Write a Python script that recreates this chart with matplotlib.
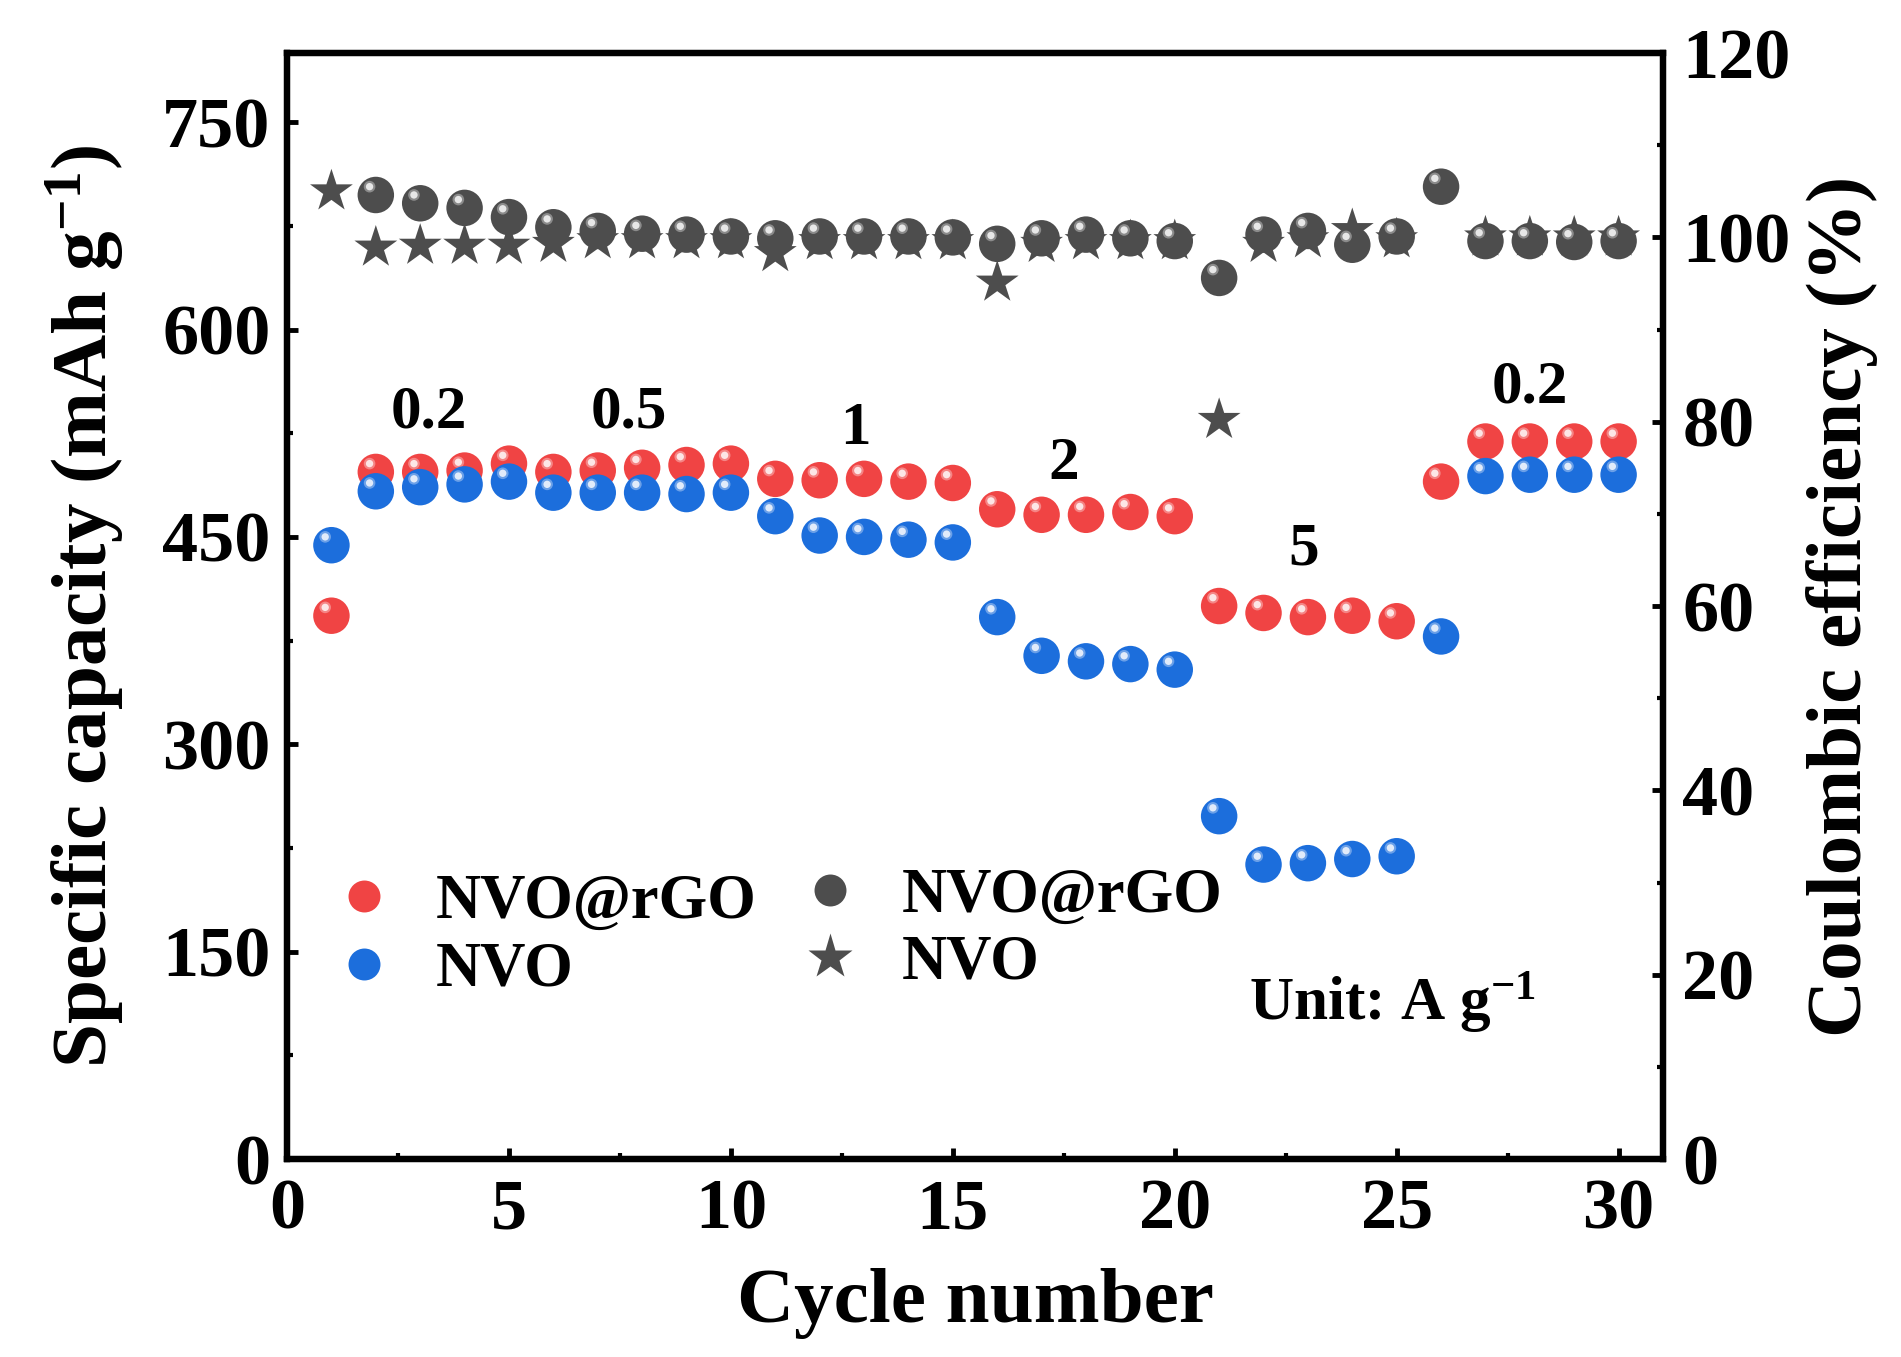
import numpy as np
import matplotlib
matplotlib.use("Agg")
import matplotlib.pyplot as plt
from matplotlib.lines import Line2D
from matplotlib.ticker import MultipleLocator
import matplotlib.transforms as mtransforms

plt.rcParams['font.family'] = ['Liberation Serif', 'DejaVu Serif']
plt.rcParams['font.weight'] = 'bold'
plt.rcParams['mathtext.fontset'] = 'custom'
plt.rcParams['mathtext.rm'] = 'Liberation Serif:bold'
plt.rcParams['mathtext.bf'] = 'Liberation Serif:bold'
plt.rcParams['mathtext.it'] = 'Liberation Serif:italic:bold'

# ---------------- data ----------------
cycles = list(range(1, 31))
cap_nvo_rgo = [393, 497, 497, 498, 503, 497, 498, 500, 502, 503,
               492, 491, 492, 490, 489, 470, 466, 466, 468, 465,
               400, 395, 392, 393, 389, 490, 519, 519, 519, 519]
cap_nvo = [444, 483, 486, 488, 490, 482, 482, 482, 481, 482,
           465, 451, 450, 448, 446, 392, 364, 360, 358, 354,
           248, 213, 214, 217, 219, 378, 494, 495, 495, 495]
ce_cycles_rgo = list(range(2, 31))
ce_nvo_rgo = [104.6, 103.7, 103.2, 102.2, 101.1, 100.7, 100.4, 100.3, 100.1,
              99.9, 100.1, 100.1, 100.1, 100.0, 99.3, 99.9, 100.3, 99.9, 99.6,
              95.6, 100.3, 100.7, 99.2, 100.1, 105.5, 99.6, 99.6, 99.5, 99.6]
ce_nvo = [105.0, 98.9, 99.1, 99.1, 99.1, 99.3, 99.7, 99.7, 99.7, 99.7,
          98.3, 99.6, 99.6, 99.6, 99.6, 95.1, 99.3, 99.6, 99.6, 99.6,
          80.2, 99.3, 99.8, 100.8, 99.8, np.nan, 100.0, 100.0, 100.0, 100.0]
rate_labels = ['0.2', '0.5', '1', '2', '5', '0.2']
rate_x = [3.2, 7.7, 12.8, 17.5, 22.9, 28.0]
rate_y = [540, 540, 528, 503, 441, 558]

RED = '#F04444'
BLUE = '#1C6EDC'
GRAY = '#4D4D4D'

fig = plt.figure(figsize=(19.01, 13.57), dpi=100)
ax = fig.add_axes([0.151, 0.1459, 0.7238, 0.8150])
ax2 = ax.twinx()

MS = 690  # marker area (pt^2)


def sphere(axis, x, y, color, zorder):
    axis.scatter(x, y, s=MS, color=color, edgecolors='none', zorder=zorder)
    off = mtransforms.offset_copy(axis.transData, fig=fig, x=-4.5, y=6.0, units='points')
    axis.scatter(x, y, s=70, color='white', alpha=0.35, edgecolors='none',
                 zorder=zorder + 0.1, transform=off)
    axis.scatter(x, y, s=28, color='white', alpha=0.8, edgecolors='none',
                 zorder=zorder + 0.2, transform=off)


sphere(ax, cycles, cap_nvo_rgo, RED, 3)
sphere(ax, cycles, cap_nvo, BLUE, 4)
ax2.scatter(cycles, ce_nvo, s=1050, marker='*', color=GRAY, edgecolors='none', zorder=3)
sphere(ax2, ce_cycles_rgo, ce_nvo_rgo, GRAY, 4)

for lab, xx, yy in zip(rate_labels, rate_x, rate_y):
    ax.text(xx, yy, lab, fontsize=44, fontweight='bold', ha='center', va='center', zorder=6)
ax.text(24.9, 113, 'Unit: A g$^{-1}$', fontsize=44, ha='center', va='center', zorder=6)

ax.set_xlim(0, 31)
ax.set_ylim(0, 800)
ax2.set_ylim(0, 120)
ax.xaxis.set_major_locator(MultipleLocator(5))
ax.xaxis.set_minor_locator(MultipleLocator(2.5))
ax.yaxis.set_major_locator(MultipleLocator(150))
ax.yaxis.set_minor_locator(MultipleLocator(75))
ax2.yaxis.set_major_locator(MultipleLocator(20))
ax2.yaxis.set_minor_locator(MultipleLocator(10))

for a in (ax, ax2):
    for sp in a.spines.values():
        sp.set_linewidth(4.5)
    a.tick_params(which='major', direction='in', length=8, width=3.5, labelsize=52)
    a.tick_params(which='minor', direction='in', length=4, width=3)
ax.tick_params(axis='y', which='both', right=False)
ax.tick_params(axis='x', which='both', top=False, pad=14)
ax.tick_params(axis='y', pad=12)
ax2.tick_params(axis='y', pad=14)

ax.set_xlabel('Cycle number', fontsize=57, fontweight='bold', labelpad=18)
ax.set_ylabel('Specific capacity (mAh g$^{-1}$)', fontsize=57, fontweight='bold', labelpad=26)
ax2.set_ylabel('Coulombic efficiency (%)', fontsize=57, fontweight='bold', labelpad=11)

h1 = [Line2D([], [], ls='none', marker='o', ms=23, color=RED, mec='none'),
      Line2D([], [], ls='none', marker='o', ms=23, color=BLUE, mec='none')]
h2 = [Line2D([], [], ls='none', marker='o', ms=23, color=GRAY, mec='none'),
      Line2D([], [], ls='none', marker='*', ms=34, color=GRAY, mec='none')]
leg1 = ax2.legend(h1, ['NVO@rGO', 'NVO'], loc='center left', bbox_to_anchor=(0.033, 0.201),
                  frameon=False, fontsize=45, handlelength=1.0, handletextpad=0.65,
                  labelspacing=0.15, borderpad=0, borderaxespad=0)
ax2.add_artist(leg1)
leg2 = ax2.legend(h2, ['NVO@rGO', 'NVO'], loc='center left', bbox_to_anchor=(0.372, 0.207),
                  frameon=False, fontsize=45, handlelength=1.0, handletextpad=0.65,
                  labelspacing=0.15, borderpad=0, borderaxespad=0)

fig.savefig('out.png', dpi=100)
